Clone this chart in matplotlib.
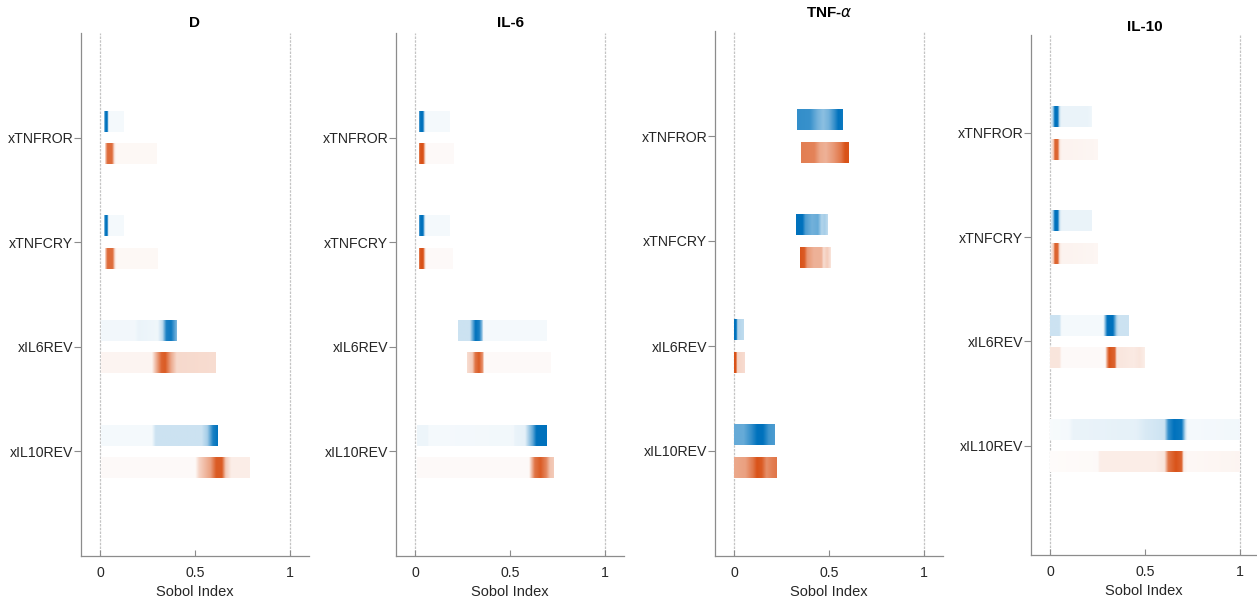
import numpy as np
import matplotlib
matplotlib.use("Agg")
import matplotlib.pyplot as plt

plt.rcParams['font.family'] = ['Liberation Sans', 'DejaVu Sans']

titles = ["D", "IL-6", r"TNF-$\alpha$", "IL-10"]
params = ["xTNFROR", "xTNFCRY", "xIL6REV", "xIL10REV"]
xticks = [0, 0.5, 1]
xticklabels = ["0", "0.5", "1"]

# Density knots (Sobol index, relative density) per parameter: first-order (blue) and total (orange)
D_first = [
    [(0.023, 0.3), (0.03, 1), (0.04, 1), (0.045, 0.1), (0.05, 0.04), (0.125, 0.04)],
    [(0.023, 0.3), (0.03, 1), (0.04, 1), (0.045, 0.1), (0.05, 0.04), (0.127, 0.04)],
    [(0.004, 0.05), (0.18, 0.05), (0.2, 0.08), (0.3, 0.06), (0.325, 0.25), (0.345, 0.9), (0.37, 0.95), (0.39, 0.65), (0.40, 0.5)],
    [(0.004, 0.04), (0.27, 0.04), (0.29, 0.2), (0.53, 0.2), (0.56, 0.35), (0.59, 0.9), (0.615, 1.0)],
]
D_total = [
    [(0.028, 0.15), (0.04, 0.85), (0.065, 0.85), (0.077, 0.15), (0.085, 0.04), (0.30, 0.04)],
    [(0.028, 0.15), (0.04, 0.85), (0.068, 0.85), (0.08, 0.15), (0.088, 0.04), (0.305, 0.04)],
    [(0.004, 0.06), (0.27, 0.06), (0.29, 0.4), (0.32, 0.9), (0.34, 0.95), (0.37, 0.5), (0.40, 0.22), (0.605, 0.2)],
    [(0.004, 0.03), (0.5, 0.03), (0.52, 0.25), (0.58, 0.55), (0.61, 0.95), (0.64, 0.95), (0.66, 0.3), (0.69, 0.1), (0.787, 0.1)],
]
IL6_first = [
    [(0.021, 0.6), (0.028, 1), (0.042, 1), (0.05, 0.2), (0.055, 0.04), (0.184, 0.04)],
    [(0.021, 0.6), (0.028, 1), (0.042, 1), (0.05, 0.2), (0.055, 0.04), (0.18, 0.04)],
    [(0.228, 0.2), (0.29, 0.2), (0.305, 0.6), (0.32, 1), (0.34, 0.9), (0.356, 0.4), (0.36, 0.04), (0.696, 0.04)],
    [(0.012, 0.07), (0.07, 0.07), (0.072, 0.04), (0.52, 0.05), (0.525, 0.08), (0.58, 0.1), (0.62, 0.6), (0.64, 1), (0.695, 1)],
]
IL6_total = [
    [(0.023, 0.7), (0.03, 1), (0.045, 1), (0.054, 0.2), (0.06, 0.03), (0.202, 0.03)],
    [(0.023, 0.7), (0.03, 1), (0.045, 1), (0.054, 0.2), (0.06, 0.03), (0.2, 0.03)],
    [(0.272, 0.2), (0.30, 0.3), (0.315, 0.8), (0.335, 0.95), (0.355, 0.6), (0.36, 0.03), (0.71, 0.03)],
    [(0.012, 0.03), (0.6, 0.03), (0.61, 0.3), (0.63, 0.8), (0.66, 0.95), (0.69, 0.7), (0.71, 0.35), (0.73, 0.3)],
]
TNF_first = [
    [(0.332, 0.8), (0.40, 0.78), (0.44, 0.55), (0.47, 0.45), (0.50, 0.55), (0.53, 0.8), (0.55, 1), (0.574, 0.95)],
    [(0.326, 1), (0.36, 1), (0.375, 0.7), (0.41, 0.55), (0.44, 0.6), (0.46, 0.3), (0.475, 0.35), (0.493, 0.25)],
    [(0.0, 1), (0.012, 1), (0.018, 0.3), (0.05, 0.25)],
    [(0.0, 0.6), (0.05, 0.6), (0.09, 0.8), (0.12, 1), (0.15, 1), (0.18, 0.75), (0.212, 0.7)],
]
TNF_total = [
    [(0.351, 0.75), (0.42, 0.72), (0.45, 0.5), (0.48, 0.45), (0.52, 0.6), (0.56, 0.8), (0.58, 1), (0.60, 1)],
    [(0.347, 1), (0.37, 0.95), (0.385, 0.6), (0.42, 0.45), (0.46, 0.45), (0.47, 0.2), (0.49, 0.3), (0.509, 0.15)],
    [(0.0, 1), (0.01, 1), (0.015, 0.25), (0.054, 0.2)],
    [(0.0, 0.5), (0.06, 0.55), (0.10, 0.8), (0.12, 1), (0.145, 0.95), (0.17, 0.65), (0.2, 0.75), (0.224, 0.8)],
]
IL10_first = [
    [(0.005, 0.1), (0.015, 0.3), (0.025, 1), (0.04, 1), (0.05, 0.2), (0.06, 0.08), (0.2, 0.08), (0.22, 0.06)],
    [(0.005, 0.1), (0.015, 0.3), (0.025, 1), (0.04, 1), (0.05, 0.2), (0.06, 0.08), (0.218, 0.08)],
    [(0.0, 0.2), (0.05, 0.2), (0.06, 0.04), (0.28, 0.04), (0.29, 0.5), (0.3, 1), (0.33, 1), (0.35, 0.3), (0.36, 0.2), (0.414, 0.2)],
    [(0.0, 0.03), (0.1, 0.04), (0.12, 0.08), (0.45, 0.1), (0.5, 0.15), (0.6, 0.2), (0.62, 0.8), (0.65, 1), (0.69, 0.95), (0.71, 0.2), (0.72, 0.04), (0.995, 0.05)],
]
IL10_total = [
    [(0.005, 0.08), (0.018, 0.3), (0.025, 0.9), (0.04, 0.9), (0.05, 0.15), (0.06, 0.07), (0.25, 0.05)],
    [(0.005, 0.08), (0.018, 0.3), (0.025, 0.9), (0.04, 0.9), (0.05, 0.15), (0.06, 0.07), (0.25, 0.05)],
    [(0.0, 0.15), (0.05, 0.15), (0.06, 0.03), (0.29, 0.03), (0.30, 0.6), (0.31, 1), (0.34, 0.9), (0.35, 0.15), (0.44, 0.12), (0.47, 0.15), (0.498, 0.1)],
    [(0.0, 0.02), (0.25, 0.03), (0.26, 0.1), (0.55, 0.1), (0.6, 0.15), (0.62, 0.8), (0.66, 1), (0.69, 0.9), (0.70, 0.1), (0.72, 0.04), (0.995, 0.06)],
]

first_sets = [D_first, IL6_first, TNF_first, IL10_first]
total_sets = [D_total, IL6_total, TNF_total, IL10_total]

blue = np.array([0.0, 0.447, 0.741])
orange = np.array([0.851, 0.325, 0.098])

W, H = 1257, 603
fig = plt.figure(figsize=(W / 100, H / 100), dpi=100)

# axes boxes in pixels: left, top, right, bottom
boxes = [(81, 33, 309, 556), (396, 33, 624, 556), (715, 31, 943, 556), (1031, 35, 1257, 555)]
ylims = [(5, 0), (5, 0), (5, 0), (5.05, 0.06)]
title_y = [23, 23, 13, 27]

def draw_strip(ax, knots, yc, color, h=0.2):
    xs_k = np.array([k[0] for k in knots])
    a_k = np.array([k[1] for k in knots])
    xs = np.linspace(xs_k[0], xs_k[-1], 600)
    a = np.interp(xs, xs_k, a_k)
    rgb = 1 - a[:, None] * (1 - color[None, :])
    ax.imshow(rgb[None, :, :], extent=[xs_k[0], xs_k[-1], yc + h / 2, yc - h / 2],
              aspect='auto', interpolation='bilinear', zorder=2)

spine_col = '#8c8c8c'
for i in range(4):
    l, t, r, b = boxes[i]
    ax = fig.add_axes([l / W, (H - b) / H, (r - l) / W, (b - t) / H])
    pos = np.arange(1, len(params) + 1)
    for j in range(len(params)):
        draw_strip(ax, first_sets[i][j], pos[j] - 0.155, blue)
        draw_strip(ax, total_sets[i][j], pos[j] + 0.155, orange)
    for xv in (0, 1):
        ax.axvline(xv, color='#c4c4c4', lw=0.9, ls=(0, (2, 1)), zorder=1)
    ax.set_xlim(-0.1, -0.1 + (r - l) / 190.0)
    ax.set_ylim(*ylims[i])
    ax.set_yticks(pos)
    ax.set_yticklabels(params)
    ax.set_xticks(xticks)
    ax.set_xticklabels(xticklabels)
    for s in ('top', 'right'):
        ax.spines[s].set_visible(False)
    for s in ('left', 'bottom'):
        ax.spines[s].set_color(spine_col)
        ax.spines[s].set_linewidth(0.9)
    ax.tick_params(axis='y', direction='out', length=5, width=0.8, color=spine_col,
                   labelsize=10.2, labelcolor='#262626', pad=0.5)
    ax.tick_params(axis='x', direction='in', length=4, width=0.8, color=spine_col,
                   labelsize=10.2, labelcolor='#262626', pad=7)
    ax.set_xlabel("Sobol Index", fontsize=10.5, color='#262626', labelpad=4)
    cx = (boxes[i][0] + 19 + 95) / W
    fig.text(cx, 1 - title_y[i] / H, titles[i], ha='center', va='center',
             fontsize=11, fontweight='bold', color='black')

fig.savefig("out.png", dpi=100)
